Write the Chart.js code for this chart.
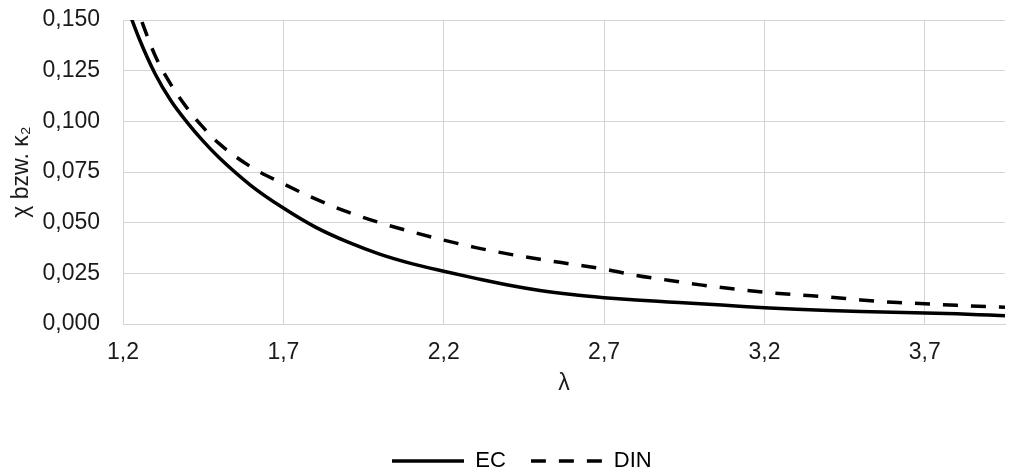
<!DOCTYPE html>
<html>
<head>
<meta charset="utf-8">
<script src="https://cdn.jsdelivr.net/npm/chart.js@4.4.1/dist/chart.umd.min.js"></script>
<style>
  html, body { margin: 0; padding: 0; background: #fff; }
</style>
</head>
<body>
<canvas id="myChart" width="1011" height="472"></canvas>
<script>
// slenderness λ and the two reduction curves
const lambda = [1.2, 1.25, 1.3, 1.35, 1.4, 1.45, 1.5, 1.6, 1.7, 1.8, 1.9, 2.0, 2.1, 2.2, 2.3, 2.4, 2.5,
                2.6, 2.7, 2.8, 2.9, 3.0, 3.1, 3.2, 3.3, 3.4, 3.5, 3.6, 3.7, 3.8, 3.9, 3.95]
const ecValues = [0.162, 0.141, 0.1235, 0.110, 0.0995, 0.0902, 0.0820, 0.0682, 0.0572, 0.0478, 0.0405,
                  0.0345, 0.0298, 0.0260, 0.0225, 0.0192, 0.0165, 0.0145, 0.0130, 0.0118, 0.0109,
                  0.0100, 0.0090, 0.0080, 0.0073, 0.0067, 0.0062, 0.0058, 0.0054, 0.0050, 0.0044, 0.0041]
const dinValues = [0.175, 0.153, 0.1325, 0.118, 0.1065, 0.0970, 0.0890, 0.0774, 0.0692, 0.0617, 0.0553,
                   0.0500, 0.0455, 0.0414, 0.0377, 0.0346, 0.0319, 0.0295, 0.0271, 0.0240, 0.0216,
                   0.0193, 0.0174, 0.0157, 0.0144, 0.0133, 0.0119, 0.0107, 0.0100, 0.0092, 0.0086, 0.0083]

const xTicks = [1.2, 1.7, 2.2, 2.7, 3.2, 3.7]
const yTicks = [0, 0.025, 0.05, 0.075, 0.1, 0.125, 0.15]

const fontFamily = "'Liberation Sans', Arial, sans-serif"
Chart.defaults.color = '#1a1a1a'
Chart.defaults.font.family = fontFamily
Chart.defaults.font.size = 23

const lineWidth = 3.5
const dash = [15, 13]
const swatchWidth = 72

const toPoints = (ys) => lambda.map((x, i) => ({ x: x, y: ys[i] }))
const comma = (v, digits) => v.toFixed(digits).replace('.', ',')

// small line samples for the legend (the built-in line point style ignores dashes)
const makeSwatch = (pattern) => {
    const c = document.createElement('canvas')
    c.width = swatchWidth
    c.height = 6
    const g = c.getContext('2d')
    g.strokeStyle = '#000'
    g.lineWidth = lineWidth
    g.setLineDash(pattern)
    g.beginPath()
    g.moveTo(0, 3)
    g.lineTo(swatchWidth, 3)
    g.stroke()
    return c
}
const swatches = [makeSwatch([]), makeSwatch(dash)]

// the legend sits a bit lower than its own padding allows, nudge it down after layout
const legendNudge = {
    id: 'legendNudge',
    afterLayout(chart) {
        chart.legend.top += 10
        chart.legend.bottom += 10
    }
}

var chart = new Chart(document.getElementById('myChart'), {
    type: 'line',
    data: {
        datasets: [
            {
                label: 'EC',
                data: toPoints(ecValues),
                borderColor: '#000',
                backgroundColor: '#000',
                borderWidth: lineWidth,
                pointRadius: 0,
                cubicInterpolationMode: 'monotone',
                clip: 0
            },
            {
                label: 'DIN',
                data: toPoints(dinValues),
                borderColor: '#000',
                backgroundColor: '#000',
                borderWidth: lineWidth,
                borderDash: dash,
                pointRadius: 0,
                cubicInterpolationMode: 'monotone',
                clip: 0
            }
        ]
    },
    options: {
        responsive: false,
        animation: false,
        layout: {
            padding: { left: 39, right: 6, top: 20, bottom: 0 }
        },
        scales: {
            x: {
                type: 'linear',
                min: 1.2,
                max: 3.95,
                afterBuildTicks: (scale) => { scale.ticks = xTicks.map(v => ({ value: v })) },
                afterFit: (scale) => { scale.height = 91 },
                grid: { color: '#d4d4d4', lineWidth: 1, drawTicks: false },
                border: { color: '#d4d4d4', width: 1 },
                ticks: {
                    padding: 15,
                    maxRotation: 0,
                    callback: (v) => comma(v, 1)
                },
                title: {
                    display: true,
                    text: 'λ',
                    padding: { top: 0, bottom: 18 }
                }
            },
            y: {
                min: 0,
                max: 0.15,
                afterBuildTicks: (scale) => { scale.ticks = yTicks.map(v => ({ value: v })) },
                afterFit: (scale) => { scale.width = 84 },
                // invisible tick marks keep the labels clear of the axis
                grid: { color: '#d4d4d4', lineWidth: 1, drawTicks: true, tickLength: 17, tickColor: 'rgba(0,0,0,0)' },
                border: { color: '#d4d4d4', width: 1 },
                ticks: {
                    padding: 6,
                    callback: (v) => comma(v, 3)
                },
                title: {
                    display: true,
                    text: 'χ bzw. κ₂',
                    padding: { top: -31, bottom: 0 }
                }
            }
        },
        plugins: {
            legend: {
                position: 'bottom',
                labels: {
                    usePointStyle: true,
                    pointStyleWidth: swatchWidth,
                    padding: 25,
                    color: '#000',
                    font: { size: 22 },
                    generateLabels: (ch) => Chart.defaults.plugins.legend.labels.generateLabels(ch)
                        .map((item, i) => Object.assign(item, { pointStyle: swatches[i] }))
                }
            },
            tooltip: { enabled: false }
        }
    },
    plugins: [legendNudge]
})
</script>
</body>
</html>
